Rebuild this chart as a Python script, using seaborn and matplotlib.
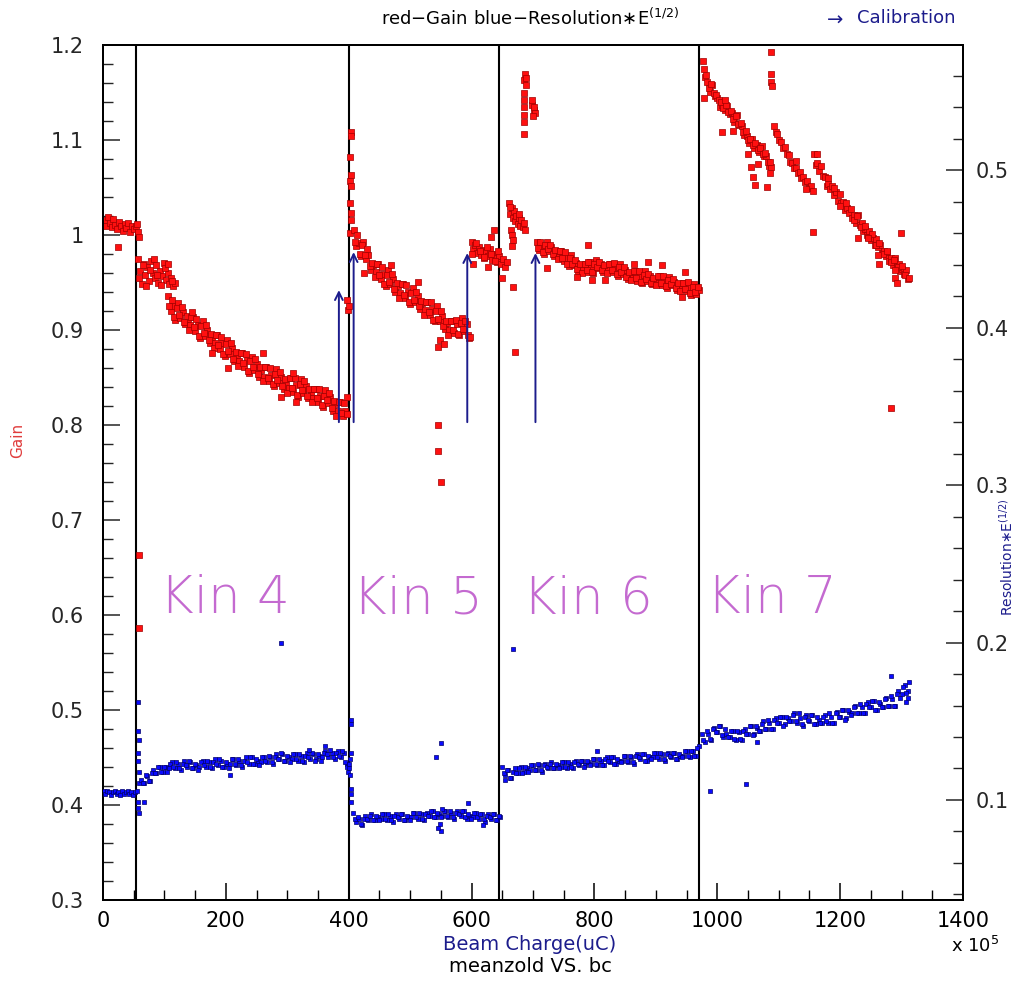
import matplotlib
matplotlib.use("Agg")
import matplotlib.pyplot as plt
import seaborn as sns
import pandas as pd
from matplotlib.ticker import MultipleLocator

# ---------------- data (beam charge in units of 1e5 uC) ----------------
gain_kin0 = [(2, 1.016), (5, 1.010), (8, 1.019), (11, 1.013), (14, 1.008), (17, 1.017), (20, 1.011),
             (23, 1.006), (26, 1.014), (29, 1.009), (32, 1.004), (35, 1.012), (38, 1.007), (41, 1.013),
             (44, 1.003), (47, 1.010), (50, 1.006), (53, 1.009), (56, 1.012), (57, 1.003), (58, 0.998),
             (25, 0.987)]

gain_kin4 = [
    # early cluster
    (57, 0.975), (60, 0.962), (63, 0.948), (66, 0.970), (69, 0.958), (72, 0.966), (75, 0.952), (78, 0.973),
    (81, 0.960), (84, 0.955), (87, 0.968), (90, 0.950), (93, 0.962), (96, 0.957), (99, 0.971), (102, 0.953),
    (105, 0.960), (108, 0.948), (111, 0.955), (114, 0.946), (117, 0.950),
    (58.5, 0.955), (64.5, 0.968), (70.5, 0.946), (76.5, 0.963), (82.5, 0.975), (88.5, 0.958), (94.5, 0.947),
    (100.5, 0.965), (106.5, 0.970), (112.5, 0.952), (58, 0.663), (58, 0.586),
    # main band
    (106, 0.936), (110, 0.920), (114, 0.925), (118, 0.911), (122, 0.928), (126, 0.913), (130, 0.919),
    (134, 0.906), (138, 0.912), (142, 0.905), (146, 0.914), (150, 0.899), (154, 0.905), (158, 0.892),
    (162, 0.909), (166, 0.894), (170, 0.900), (174, 0.886), (178, 0.893), (182, 0.886), (186, 0.895),
    (190, 0.880), (194, 0.886), (198, 0.873), (202, 0.890), (206, 0.875), (210, 0.881), (214, 0.867),
    (218, 0.874), (222, 0.867), (226, 0.876), (230, 0.861), (234, 0.868), (238, 0.855), (242, 0.872),
    (246, 0.858), (250, 0.864), (254, 0.851), (258, 0.858), (262, 0.851), (266, 0.861), (270, 0.846),
    (274, 0.853), (278, 0.841), (282, 0.859), (286, 0.844), (290, 0.851), (294, 0.838), (298, 0.845),
    (302, 0.839), (306, 0.849), (310, 0.835), (314, 0.842), (318, 0.830), (322, 0.848), (326, 0.834),
    (330, 0.841), (334, 0.828), (338, 0.835), (342, 0.828), (346, 0.838), (350, 0.824), (354, 0.831),
    (358, 0.819), (362, 0.837), (366, 0.823), (370, 0.829), (374, 0.815), (378, 0.822), (382, 0.815),
    (386, 0.824), (390, 0.809), (394, 0.815),
    (108, 0.925), (112, 0.932), (116, 0.914), (120, 0.923), (124, 0.916), (128, 0.924), (132, 0.908),
    (136, 0.915), (140, 0.900), (144, 0.914), (148, 0.903), (152, 0.912), (156, 0.894), (160, 0.904),
    (164, 0.897), (168, 0.905), (172, 0.889), (176, 0.896), (180, 0.881), (184, 0.895), (188, 0.884),
    (192, 0.893), (196, 0.875), (200, 0.885), (204, 0.878), (208, 0.886), (212, 0.870), (216, 0.877),
    (220, 0.862), (224, 0.876), (228, 0.865), (232, 0.875), (236, 0.857), (240, 0.867), (244, 0.861),
    (248, 0.869), (252, 0.854), (256, 0.861), (260, 0.846), (264, 0.861), (268, 0.850), (272, 0.860),
    (276, 0.843), (280, 0.854), (284, 0.847), (288, 0.856), (292, 0.841), (296, 0.848), (300, 0.834),
    (304, 0.849), (308, 0.839), (312, 0.849), (316, 0.832), (320, 0.843), (324, 0.837), (328, 0.846),
    (332, 0.831), (336, 0.838), (340, 0.824), (344, 0.838), (348, 0.828), (352, 0.838), (356, 0.821),
    (360, 0.831), (364, 0.826), (368, 0.834), (372, 0.818), (376, 0.825), (380, 0.810), (384, 0.824),
    (388, 0.813), (392, 0.823),
    # scattered
    (204, 0.860), (178, 0.876), (289, 0.829), (314, 0.824), (260, 0.876), (310, 0.855), (145, 0.919),
    (397, 0.830), (398, 0.812), (398, 0.932), (399, 0.921), (400, 0.925),
]

gain_kin5 = [
    (403, 1.108), (404, 1.104), (402, 1.082), (403, 1.063), (402, 1.057), (403, 1.052), (402, 1.034),
    (403, 1.023), (404, 1.016), (402, 1.002),
    (408, 1.005), (412, 0.988), (416, 0.992), (420, 0.978), (424, 0.993), (428, 0.975), (432, 0.979),
    (436, 0.963), (440, 0.968), (444, 0.961), (448, 0.969), (452, 0.954), (456, 0.959), (460, 0.946),
    (464, 0.963), (468, 0.948), (472, 0.954), (476, 0.940), (480, 0.946), (484, 0.939), (488, 0.948),
    (492, 0.934), (496, 0.940), (500, 0.927), (504, 0.944), (508, 0.929), (512, 0.936), (516, 0.922),
    (520, 0.928), (524, 0.921), (528, 0.930), (532, 0.916), (536, 0.922), (540, 0.909), (544, 0.925),
    (548, 0.909), (552, 0.915), (556, 0.901), (560, 0.907), (564, 0.900), (568, 0.910), (572, 0.897),
    (576, 0.906), (580, 0.895), (584, 0.913), (588, 0.899), (592, 0.906), (596, 0.892),
    (410, 0.993), (414, 1.000), (418, 0.980), (422, 0.989), (426, 0.979), (430, 0.985), (434, 0.967),
    (438, 0.971), (442, 0.956), (446, 0.970), (450, 0.958), (454, 0.966), (458, 0.948), (462, 0.958),
    (466, 0.951), (470, 0.959), (474, 0.943), (478, 0.949), (482, 0.934), (486, 0.948), (490, 0.937),
    (494, 0.947), (498, 0.929), (502, 0.939), (506, 0.932), (510, 0.940), (514, 0.925), (518, 0.931),
    (522, 0.916), (526, 0.930), (530, 0.919), (534, 0.929), (538, 0.911), (542, 0.920), (546, 0.912),
    (550, 0.920), (554, 0.904), (558, 0.910), (562, 0.895), (566, 0.909), (570, 0.900), (574, 0.911),
    (578, 0.896), (582, 0.907), (586, 0.901), (590, 0.910), (594, 0.895),
    (545, 0.882), (548, 0.889), (546, 0.800), (546, 0.773), (551, 0.740), (425, 0.960), (469, 0.968),
    (513, 0.951), (555, 0.885), (597, 0.893),
    (600, 0.993), (603, 0.985), (606, 0.989), (609, 0.981), (612, 0.987), (615, 0.979), (618, 0.984),
    (621, 0.976), (624, 0.982), (627, 0.978), (630, 0.985), (633, 0.974), (636, 0.980), (639, 0.976),
    (642, 0.972), (645, 0.978), (648, 0.970), (651, 0.975), (654, 0.966), (657, 0.972),
    (601.5, 0.980), (607.5, 0.992), (613.5, 0.983), (619.5, 0.977), (625.5, 0.987), (631.5, 0.980),
    (637.5, 0.973), (643.5, 0.983), (632, 0.998), (637, 1.005), (603, 0.970), (627, 0.966), (650, 0.955),
]

gain_kin6 = [
    (661, 1.034), (663, 1.022), (665, 1.028), (667, 1.018), (669, 1.025), (671, 1.015), (673, 1.020),
    (675, 1.012), (677, 1.018), (679, 1.010), (681, 1.016), (683, 1.008), (685, 1.013), (687, 1.005),
    (664, 1.005), (666, 1.000), (668, 0.995), (666, 0.988), (670, 0.877), (668, 0.945), (662, 1.030),
    (678, 1.022),
    (687, 1.170), (685, 1.163), (688, 1.158), (686, 1.150), (685, 1.142), (686, 1.135), (685, 1.126),
    (686, 1.119), (686, 1.106), (699, 1.137), (701, 1.132), (703, 1.128), (698, 1.142), (700, 1.125),
    (702, 1.135), (689, 1.165),
    (706, 0.993), (710, 0.984), (714, 0.988), (718, 0.980), (722, 0.993), (726, 0.983), (730, 0.987),
    (734, 0.978), (738, 0.982), (742, 0.977), (746, 0.983), (750, 0.973), (754, 0.976), (758, 0.967),
    (762, 0.979), (766, 0.968), (770, 0.971), (774, 0.962), (778, 0.967), (782, 0.963), (786, 0.970),
    (790, 0.961), (794, 0.967), (798, 0.960), (802, 0.974), (806, 0.965), (810, 0.970), (814, 0.961),
    (818, 0.967), (822, 0.963), (826, 0.970), (830, 0.961), (834, 0.965), (838, 0.957), (842, 0.969),
    (846, 0.959), (850, 0.963), (854, 0.954), (858, 0.960), (862, 0.955), (866, 0.962), (870, 0.952),
    (874, 0.957), (878, 0.949), (882, 0.962), (886, 0.952), (890, 0.957), (894, 0.948), (898, 0.954),
    (902, 0.950), (906, 0.957), (910, 0.947), (914, 0.952), (918, 0.944), (922, 0.956), (926, 0.947),
    (930, 0.951), (934, 0.942), (938, 0.948), (942, 0.943), (946, 0.950), (950, 0.941), (954, 0.945),
    (958, 0.937), (962, 0.948), (966, 0.938), (970, 0.942),
    (708, 0.986), (712, 0.993), (716, 0.982), (720, 0.989), (724, 0.985), (728, 0.990), (732, 0.980),
    (736, 0.984), (740, 0.975), (744, 0.983), (748, 0.976), (752, 0.982), (756, 0.969), (760, 0.976),
    (764, 0.970), (768, 0.974), (772, 0.964), (776, 0.969), (780, 0.960), (784, 0.970), (788, 0.963),
    (792, 0.972), (796, 0.961), (800, 0.970), (804, 0.966), (808, 0.972), (812, 0.963), (816, 0.968),
    (820, 0.960), (824, 0.970), (828, 0.963), (832, 0.971), (836, 0.959), (840, 0.966), (844, 0.961),
    (848, 0.966), (852, 0.956), (856, 0.961), (860, 0.953), (864, 0.962), (868, 0.955), (872, 0.962),
    (876, 0.951), (880, 0.958), (884, 0.954), (888, 0.959), (892, 0.950), (896, 0.955), (900, 0.947),
    (904, 0.957), (908, 0.950), (912, 0.957), (916, 0.946), (920, 0.953), (924, 0.948), (928, 0.954),
    (932, 0.944), (936, 0.949), (940, 0.941), (944, 0.950), (948, 0.943), (952, 0.951), (956, 0.939),
    (960, 0.945), (964, 0.940), (968, 0.945),
    (790, 0.989), (790, 0.972), (796, 0.953), (771, 0.956), (722, 0.965), (864, 0.970), (887, 0.972),
    (910, 0.968), (943, 0.935), (948, 0.961), (817, 0.953),
]

gain_kin7 = [
    (976, 1.183), (980, 1.166), (984, 1.161), (988, 1.151), (992, 1.158), (996, 1.146), (1000, 1.144),
    (1004, 1.135), (1008, 1.137), (1012, 1.132), (1016, 1.136), (1020, 1.127), (1024, 1.128), (1028, 1.119),
    (1032, 1.126), (1036, 1.116), (1040, 1.115), (1044, 1.105), (1048, 1.104), (1052, 1.097), (1056, 1.101),
    (1060, 1.092), (1064, 1.095), (1068, 1.087), (1072, 1.094), (1076, 1.083), (1080, 1.083), (1084, 1.073),
    (1088, 1.072),
    (978, 1.175), (982, 1.168), (986, 1.155), (990, 1.159), (994, 1.149), (998, 1.147), (1002, 1.142),
    (1006, 1.140), (1010, 1.134), (1014, 1.137), (1018, 1.130), (1022, 1.131), (1026, 1.122), (1030, 1.125),
    (1034, 1.117), (1038, 1.118), (1042, 1.108), (1046, 1.109), (1050, 1.100), (1054, 1.101), (1058, 1.095),
    (1062, 1.097), (1066, 1.090), (1070, 1.092), (1074, 1.085), (1078, 1.086), (1082, 1.077), (1086, 1.077),
    (978, 1.144), (1008, 1.108), (1025, 1.110), (1012, 1.142), (1055, 1.072), (1058, 1.061), (1061, 1.053),
    (1081, 1.051), (1086, 1.065), (1088, 1.193), (1088, 1.170), (1088, 1.161), (1089, 1.157), (1050, 1.085),
    (1066, 1.075),
    (1092, 1.115), (1095, 1.108), (1098, 1.106), (1101, 1.100), (1104, 1.098), (1107, 1.092), (1110, 1.093),
    (1113, 1.085), (1116, 1.084), (1119, 1.077), (1122, 1.076), (1125, 1.070), (1128, 1.071), (1131, 1.065),
    (1134, 1.066), (1137, 1.060), (1140, 1.061), (1143, 1.056), (1146, 1.057), (1149, 1.050), (1152, 1.052),
    (1155, 1.046), (1128, 1.078), (1145, 1.048),
    (1157, 1.085), (1160, 1.074), (1163, 1.076), (1166, 1.067), (1169, 1.073), (1172, 1.062), (1175, 1.061),
    (1178, 1.052), (1181, 1.054), (1184, 1.048), (1187, 1.052), (1190, 1.042), (1193, 1.045), (1196, 1.036),
    (1199, 1.043), (1202, 1.034), (1205, 1.035), (1208, 1.026), (1211, 1.028), (1214, 1.023), (1217, 1.027),
    (1220, 1.018), (1223, 1.021), (1226, 1.013), (1229, 1.021), (1232, 1.011), (1235, 1.013), (1238, 1.004),
    (1241, 1.006), (1244, 1.000), (1247, 1.004), (1250, 0.995), (1253, 0.997), (1256, 0.989), (1259, 0.996),
    (1262, 0.987), (1265, 0.989), (1268, 0.981), (1271, 0.983), (1274, 0.978), (1277, 0.982), (1280, 0.973),
    (1283, 0.976), (1286, 0.968), (1289, 0.976), (1292, 0.967), (1295, 0.970), (1298, 0.962), (1301, 0.964),
    (1304, 0.959), (1307, 0.963), (1310, 0.954),
    (1222, 1.016), (1228, 1.020), (1234, 1.008), (1240, 1.010), (1246, 0.998), (1252, 1.001), (1258, 0.990),
    (1264, 0.992), (1270, 0.980), (1276, 0.983), (1282, 0.972), (1288, 0.974), (1294, 0.966), (1300, 0.967),
    (1306, 0.958), (1312, 0.955), (1180, 1.060), (1190, 1.050), (1200, 1.031), (1210, 1.034),
    (1155, 1.003), (1299, 1.002), (1283, 0.818), (1290, 0.955), (1293, 0.950), (1229, 0.997), (1245, 0.997),
    (1261, 0.979), (1264, 0.970), (1289, 0.963), (1163, 1.085),
]

res_kin0 = [(1, 0.106), (4, 0.104), (7, 0.106), (10, 0.105), (13, 0.103), (16, 0.105), (19, 0.106),
            (22, 0.104), (25, 0.105), (28, 0.103), (31, 0.106), (34, 0.104), (37, 0.105), (40, 0.106),
            (43, 0.104), (46, 0.105), (49, 0.103), (52, 0.105), (55, 0.106)]

res_kin4 = [
    (57, 0.162), (57, 0.144), (58, 0.138), (57, 0.130), (58, 0.111), (57, 0.099), (58, 0.092), (57, 0.095),
    (58, 0.118), (57, 0.125), (66, 0.099),
    (62, 0.113), (67, 0.111), (72, 0.115), (77, 0.112), (82, 0.119), (87, 0.117), (92, 0.121), (97, 0.118),
    (102, 0.121), (107, 0.120), (112, 0.124), (117, 0.120), (122, 0.123), (127, 0.119), (132, 0.125),
    (137, 0.121), (142, 0.124), (147, 0.120), (152, 0.122), (157, 0.121), (162, 0.125), (167, 0.121),
    (172, 0.124), (177, 0.120), (182, 0.126), (187, 0.122), (192, 0.125), (197, 0.121), (202, 0.123),
    (207, 0.123), (212, 0.126), (217, 0.122), (222, 0.125), (227, 0.121), (232, 0.127), (237, 0.123),
    (242, 0.127), (247, 0.123), (252, 0.125), (257, 0.124), (262, 0.127), (267, 0.124), (272, 0.127),
    (277, 0.123), (282, 0.129), (287, 0.126), (292, 0.129), (297, 0.125), (302, 0.127), (307, 0.126),
    (312, 0.129), (317, 0.125), (322, 0.128), (327, 0.124), (332, 0.130), (337, 0.126), (342, 0.129),
    (347, 0.126), (352, 0.128), (357, 0.127), (362, 0.131), (367, 0.127), (372, 0.130), (377, 0.126),
    (382, 0.131), (387, 0.127), (392, 0.130), (397, 0.123),
    (64.5, 0.111), (69.5, 0.116), (74.5, 0.112), (79.5, 0.117), (84.5, 0.117), (89.5, 0.121), (94.5, 0.118),
    (99.5, 0.121), (104.5, 0.118), (109.5, 0.123), (114.5, 0.121), (119.5, 0.124), (124.5, 0.120),
    (129.5, 0.123), (134.5, 0.122), (139.5, 0.125), (144.5, 0.120), (149.5, 0.123), (154.5, 0.119),
    (159.5, 0.124), (164.5, 0.122), (169.5, 0.125), (174.5, 0.121), (179.5, 0.124), (184.5, 0.123),
    (189.5, 0.126), (194.5, 0.121), (199.5, 0.124), (204.5, 0.120), (209.5, 0.126), (214.5, 0.123),
    (219.5, 0.126), (224.5, 0.122), (229.5, 0.125), (234.5, 0.124), (239.5, 0.127), (244.5, 0.123),
    (249.5, 0.126), (254.5, 0.122), (259.5, 0.127), (264.5, 0.125), (269.5, 0.128), (274.5, 0.124),
    (279.5, 0.127), (284.5, 0.126), (289.5, 0.130), (294.5, 0.125), (299.5, 0.128), (304.5, 0.124),
    (309.5, 0.129), (314.5, 0.126), (319.5, 0.129), (324.5, 0.125), (329.5, 0.128), (334.5, 0.127),
    (339.5, 0.130), (344.5, 0.125), (349.5, 0.129), (354.5, 0.125), (359.5, 0.130), (364.5, 0.129),
    (369.5, 0.132), (374.5, 0.127), (379.5, 0.130), (384.5, 0.128), (389.5, 0.131), (394.5, 0.124),
    (289, 0.200), (207, 0.116), (335, 0.132), (362, 0.134),
    (398, 0.121), (399, 0.118), (400, 0.123), (401, 0.120), (402, 0.116), (403, 0.151), (404, 0.148),
    (403, 0.130), (403, 0.104), (404, 0.099), (404, 0.107), (402, 0.126),
]

res_kin5 = [
    (407, 0.092), (412, 0.086), (417, 0.088), (422, 0.084), (427, 0.090), (432, 0.087), (437, 0.091),
    (442, 0.087), (447, 0.089), (452, 0.088), (457, 0.091), (462, 0.087), (467, 0.090), (472, 0.086),
    (477, 0.091), (482, 0.088), (487, 0.091), (492, 0.087), (497, 0.089), (502, 0.089), (507, 0.092),
    (512, 0.088), (517, 0.091), (522, 0.087), (527, 0.092), (532, 0.090), (537, 0.093), (542, 0.089),
    (547, 0.091), (552, 0.090), (557, 0.093), (562, 0.089), (567, 0.092), (572, 0.088), (577, 0.093),
    (582, 0.090), (587, 0.093), (592, 0.088), (597, 0.090), (602, 0.089), (607, 0.092), (612, 0.088),
    (617, 0.091), (622, 0.086), (627, 0.091), (632, 0.088), (637, 0.091), (642, 0.087), (647, 0.089),
    (409.5, 0.088), (414.5, 0.089), (419.5, 0.085), (424.5, 0.088), (429.5, 0.088), (434.5, 0.090),
    (439.5, 0.087), (444.5, 0.090), (449.5, 0.087), (454.5, 0.091), (459.5, 0.088), (464.5, 0.091),
    (469.5, 0.087), (474.5, 0.090), (479.5, 0.089), (484.5, 0.091), (489.5, 0.087), (494.5, 0.090),
    (499.5, 0.087), (504.5, 0.092), (509.5, 0.089), (514.5, 0.092), (519.5, 0.088), (524.5, 0.091),
    (529.5, 0.090), (534.5, 0.093), (539.5, 0.089), (544.5, 0.092), (549.5, 0.089), (554.5, 0.093),
    (559.5, 0.090), (564.5, 0.093), (569.5, 0.089), (574.5, 0.092), (579.5, 0.091), (584.5, 0.093),
    (589.5, 0.089), (594.5, 0.091), (599.5, 0.088), (604.5, 0.092), (609.5, 0.089), (614.5, 0.091),
    (619.5, 0.088), (624.5, 0.090), (629.5, 0.089), (634.5, 0.091), (639.5, 0.087), (644.5, 0.090),
    (551, 0.136), (542, 0.127), (551, 0.080), (619, 0.084), (595, 0.098), (545, 0.082), (548, 0.085),
    (552, 0.094),
]

res_kin6 = [
    (650, 0.121), (655, 0.116), (660, 0.119), (665, 0.114), (670, 0.120), (675, 0.117), (680, 0.121),
    (685, 0.118), (690, 0.120), (695, 0.119), (700, 0.122), (705, 0.119), (710, 0.122), (715, 0.118),
    (720, 0.123), (725, 0.120), (730, 0.124), (735, 0.120), (740, 0.122), (745, 0.121), (750, 0.124),
    (755, 0.120), (760, 0.123), (765, 0.120), (770, 0.125), (775, 0.122), (780, 0.125), (785, 0.122),
    (790, 0.124), (795, 0.123), (800, 0.126), (805, 0.122), (810, 0.125), (815, 0.122), (820, 0.127),
    (825, 0.124), (830, 0.127), (835, 0.123), (840, 0.125), (845, 0.125), (850, 0.128), (855, 0.124),
    (860, 0.127), (865, 0.123), (870, 0.129), (875, 0.126), (880, 0.129), (885, 0.125), (890, 0.127),
    (895, 0.127), (900, 0.130), (905, 0.126), (910, 0.129), (915, 0.125), (920, 0.130), (925, 0.127),
    (930, 0.130), (935, 0.126), (940, 0.128), (945, 0.128), (950, 0.131), (955, 0.127), (960, 0.131),
    (965, 0.128), (970, 0.134),
    (652.5, 0.117), (657.5, 0.119), (662.5, 0.114), (667.5, 0.118), (672.5, 0.117), (677.5, 0.120),
    (682.5, 0.117), (687.5, 0.121), (692.5, 0.118), (697.5, 0.122), (702.5, 0.119), (707.5, 0.123),
    (712.5, 0.119), (717.5, 0.122), (722.5, 0.121), (727.5, 0.123), (732.5, 0.120), (737.5, 0.123),
    (742.5, 0.120), (747.5, 0.124), (752.5, 0.121), (757.5, 0.124), (762.5, 0.121), (767.5, 0.124),
    (772.5, 0.123), (777.5, 0.125), (782.5, 0.121), (787.5, 0.125), (792.5, 0.122), (797.5, 0.126),
    (802.5, 0.123), (807.5, 0.126), (812.5, 0.122), (817.5, 0.126), (822.5, 0.125), (827.5, 0.127),
    (832.5, 0.123), (837.5, 0.126), (842.5, 0.124), (847.5, 0.128), (852.5, 0.125), (857.5, 0.128),
    (862.5, 0.124), (867.5, 0.128), (872.5, 0.127), (877.5, 0.129), (882.5, 0.125), (887.5, 0.128),
    (892.5, 0.126), (897.5, 0.130), (902.5, 0.127), (907.5, 0.130), (912.5, 0.126), (917.5, 0.129),
    (922.5, 0.128), (927.5, 0.130), (932.5, 0.126), (937.5, 0.129), (942.5, 0.127), (947.5, 0.131),
    (952.5, 0.128), (957.5, 0.131), (962.5, 0.128), (967.5, 0.133),
    (668, 0.196), (805, 0.131), (655, 0.113),
]

res_kin7 = [
    (975, 0.142), (980, 0.137), (985, 0.142), (990, 0.138), (995, 0.146), (1000, 0.143), (1005, 0.147),
    (1010, 0.140), (1015, 0.142), (1020, 0.140), (1025, 0.144), (1030, 0.138), (1035, 0.143), (1040, 0.138),
    (1045, 0.145), (1050, 0.142), (1055, 0.147), (1060, 0.142), (1065, 0.146), (1070, 0.144), (1075, 0.150),
    (1080, 0.145), (1085, 0.149), (1090, 0.145), (1095, 0.152), (1100, 0.149), (1105, 0.153), (1110, 0.148),
    (1115, 0.152), (1120, 0.150), (1125, 0.155), (1130, 0.149), (1135, 0.152), (1140, 0.147), (1145, 0.154),
    (1150, 0.150), (1155, 0.154), (1160, 0.148), (1165, 0.151), (1170, 0.149), (1175, 0.154), (1180, 0.149),
    (1185, 0.153), (1190, 0.149), (1195, 0.156), (1200, 0.153), (1205, 0.157), (1210, 0.152), (1215, 0.156),
    (1220, 0.155), (1225, 0.160), (1230, 0.155), (1235, 0.159), (1240, 0.155), (1245, 0.162), (1250, 0.159),
    (1255, 0.163), (1260, 0.157), (1265, 0.161), (1270, 0.159), (1275, 0.165), (1280, 0.160), (1285, 0.164),
    (1290, 0.160), (1295, 0.169), (1300, 0.167), (1305, 0.173), (1310, 0.169),
    (977.5, 0.138), (982.5, 0.144), (987.5, 0.139), (992.5, 0.145), (997.5, 0.143), (1002.5, 0.147),
    (1007.5, 0.141), (1012.5, 0.145), (1017.5, 0.140), (1022.5, 0.144), (1027.5, 0.139), (1032.5, 0.144),
    (1037.5, 0.139), (1042.5, 0.144), (1047.5, 0.142), (1052.5, 0.147), (1057.5, 0.141), (1062.5, 0.147),
    (1067.5, 0.144), (1072.5, 0.148), (1077.5, 0.145), (1082.5, 0.151), (1087.5, 0.145), (1092.5, 0.151),
    (1097.5, 0.149), (1102.5, 0.153), (1107.5, 0.147), (1112.5, 0.153), (1117.5, 0.150), (1122.5, 0.154),
    (1127.5, 0.150), (1132.5, 0.155), (1137.5, 0.148), (1142.5, 0.153), (1147.5, 0.151), (1152.5, 0.154),
    (1157.5, 0.148), (1162.5, 0.153), (1167.5, 0.149), (1172.5, 0.153), (1177.5, 0.150), (1182.5, 0.155),
    (1187.5, 0.149), (1192.5, 0.155), (1197.5, 0.153), (1202.5, 0.157), (1207.5, 0.151), (1212.5, 0.157),
    (1217.5, 0.154), (1222.5, 0.159), (1227.5, 0.155), (1232.5, 0.161), (1237.5, 0.155), (1242.5, 0.161),
    (1247.5, 0.159), (1252.5, 0.163), (1257.5, 0.157), (1262.5, 0.162), (1267.5, 0.159), (1272.5, 0.164),
    (1277.5, 0.160), (1282.5, 0.166), (1287.5, 0.160), (1292.5, 0.167), (1297.5, 0.165), (1302.5, 0.172),
    (1307.5, 0.168), (1312.5, 0.175),
    (1283, 0.179), (988, 0.106), (1046, 0.110), (1065, 0.137), (1310, 0.165), (1308, 0.162),
]

kin_bounds = [54, 400, 645, 970]
kin_names = ["Kin 4", "Kin 5", "Kin 6", "Kin 7"]
kin_label_x = [93, 407, 684, 983]
kin_label_y = 0.602

calib_x = [384, 408, 593, 704]
calib_tip = [0.942, 0.982, 0.981, 0.981]
calib_base = 0.803

x_ticks = [0, 200, 400, 600, 800, 1000, 1200, 1400]
gain_ticks = [0.3, 0.4, 0.5, 0.6, 0.7, 0.8, 0.9, 1.0, 1.1, 1.2]
gain_tick_labels = ["0.3", "0.4", "0.5", "0.6", "0.7", "0.8", "0.9", "1", "1.1", "1.2"]
res_ticks = [0.1, 0.2, 0.3, 0.4, 0.5]

# ---------------- build tables ----------------
gain_rows = []
for seg in (gain_kin0, gain_kin4, gain_kin5, gain_kin6, gain_kin7):
    gain_rows.extend(seg)
res_rows = []
for seg in (res_kin0, res_kin4, res_kin5, res_kin6, res_kin7):
    res_rows.extend(seg)
gain_df = pd.DataFrame(gain_rows, columns=["bc", "gain"])
res_df = pd.DataFrame(res_rows, columns=["bc", "res"])

# ---------------- style ----------------
sns.set_theme(style="white")
plt.rcParams["font.family"] = ["DejaVu Sans"]
plt.rcParams["mathtext.fontset"] = "dejavusans"

W, H = 1018, 982
fig = plt.figure(figsize=(W / 100, H / 100), dpi=100)
fig.patch.set_facecolor("white")
ax = fig.add_axes([103 / W, 1 - 900 / H, 860 / W, 855 / H])
ax.set_facecolor("white")
ax2 = ax.twinx()

navy = "#1c1c8c"

for xb in kin_bounds:
    ax.axvline(xb, color="black", lw=1.5, zorder=1)

sns.scatterplot(data=gain_df, x="bc", y="gain", ax=ax, marker="s", s=13, color="#ff1010",
                edgecolor="#a00000", linewidth=0.5, legend=False, zorder=3)
sns.scatterplot(data=res_df, x="bc", y="res", ax=ax2, marker="s", s=12, color="#0a0aff",
                edgecolor="#00006a", linewidth=0.5, legend=False, zorder=3)

for xc, yt in zip(calib_x, calib_tip):
    ax.annotate("", xy=(xc, yt), xytext=(xc, calib_base),
                arrowprops=dict(arrowstyle="->", color=navy, lw=1.4, shrinkA=0, shrinkB=0,
                                mutation_scale=14), zorder=4)

for name, xl in zip(kin_names, kin_label_x):
    ax.text(xl, kin_label_y, name, fontsize=37, color="#c46ad0", fontweight="ultralight",
            ha="left", va="baseline", zorder=2)

ax.set_xlim(0, 1400)
ax.set_ylim(0.3, 1.2)
ax2.set_ylim(0.0365, 0.5794)

ax.set_xticks(x_ticks)
ax.set_xticklabels([str(t) for t in x_ticks])
ax.xaxis.set_minor_locator(MultipleLocator(50))
ax.set_yticks(gain_ticks)
ax.set_yticklabels(gain_tick_labels)
ax.yaxis.set_minor_locator(MultipleLocator(0.02))
ax2.set_yticks(res_ticks)
ax2.set_yticklabels([f"{t:.1f}" for t in res_ticks])
ax2.yaxis.set_minor_locator(MultipleLocator(0.02))

ax.tick_params(axis="x", which="both", direction="in", bottom=True, top=False, colors="black",
               labelsize=15, pad=8)
ax.tick_params(axis="x", which="major", length=12, width=1.1)
ax.tick_params(axis="x", which="minor", length=7, width=1.0)
ax.tick_params(axis="y", which="both", direction="in", left=True, right=False, labelsize=15, pad=14)
ax.tick_params(axis="y", which="major", length=12, width=1.1)
ax.tick_params(axis="y", which="minor", length=7, width=1.0)
ax2.tick_params(axis="y", which="both", direction="in", right=True, left=False, labelsize=15, pad=9)
ax2.tick_params(axis="y", which="major", length=12, width=1.1)
ax2.tick_params(axis="y", which="minor", length=7, width=1.0)

ax.set_xlabel("")
ax.set_ylabel("")
ax2.set_ylabel("")
for a in (ax, ax2):
    for sp in a.spines.values():
        sp.set_color("black")
        sp.set_linewidth(1.4)
ax.grid(False)
ax2.grid(False)

# ---------------- texts ----------------
fig.text(530 / W, 1 - 18 / H, "red\u2212Gain blue\u2212Resolution\u2217E$^{(1/2)}$", fontsize=13,
         ha="center", va="center", color="black")
fig.text(835 / W, 1 - 20 / H, "\u2192", fontsize=14, ha="center", va="center", color=navy)
fig.text(906 / W, 1 - 18 / H, "Calibration", fontsize=13, ha="center", va="center", color=navy)
fig.text(18 / W, 1 - 440 / H, "Gain", fontsize=11, rotation=90, ha="center", va="center",
         color="#e03c3c")
fig.text(1016 / W, 1 - 498 / H, "Resolution\u2217E$^{(1/2)}$", fontsize=10, rotation=90, ha="right",
         va="top", color=navy)
fig.text(530 / W, 1 - 945 / H, "Beam Charge(uC)", fontsize=14, ha="center", va="center", color=navy)
fig.text(530 / W, 1 - 966 / H, "meanzold VS. bc", fontsize=14, ha="center", va="center", color="black")
fig.text(975 / W, 1 - 946 / H, "x 10$^{5}$", fontsize=13, ha="center", va="center", color="black")

fig.savefig("out.png", dpi=100, facecolor="white")
